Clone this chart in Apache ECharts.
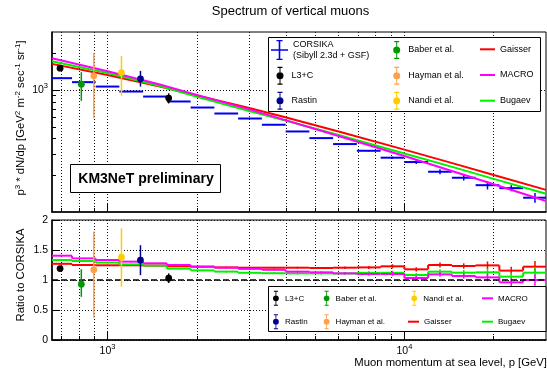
<!DOCTYPE html>
<html>
<head>
<meta charset="utf-8">
<title>Spectrum of vertical muons</title>
<script src="https://cdn.jsdelivr.net/npm/echarts@6.0.0/dist/echarts.min.js"></script>
<style>
  html, body { margin: 0; padding: 0; background: #ffffff; }
  #chart { width: 547px; height: 374px; }
</style>
</head>
<body>
<div id="chart"></div>
<script>
const FONT = "'Liberation Sans', Arial, Helvetica, sans-serif";

// CORSIKA histogram: bin edges in p [GeV], 0.08 decade per bin
const binEdges = [631, 759, 912, 1096, 1318, 1585, 1905, 2291, 2754, 3311, 3981,
                  4786, 5754, 6918, 8318, 10000, 12023, 14454, 17378, 20893, 25119, 30200];
// CORSIKA p^3 dN/dp per bin and its statistical error
const corsikaFlux = [1254, 1163, 1070, 974, 886, 807, 720, 643, 585, 520, 458,
                     404, 361, 318, 279, 257, 214, 191, 166, 157, 131];
const corsikaErr = [12, 11, 10, 9, 8, 7, 7, 6, 6, 5, 5, 5, 5, 5, 6, 9, 10, 10, 13, 9, 12];

// parametrisations, p^3 dN/dp sampled along p
const modelP      = [650, 1000, 1500, 2000, 3000, 4000, 6000, 10000, 15000, 20000, 30000];
const gaisserFlux = [1643, 1330, 1073, 905, 714, 596, 458, 325, 246, 201, 152];
const bugaevFlux  = [1727, 1380, 1082, 880, 675, 560, 428, 302, 229, 187, 141];
const macroFlux   = [1826, 1428, 1111, 915, 695, 565, 420, 288, 211, 169, 123];

// parametrisation / CORSIKA, per bin
const gaisserRatio = [1.27, 1.25, 1.245, 1.245, 1.24, 1.23, 1.222, 1.21, 1.205, 1.205, 1.205,
                      1.2, 1.205, 1.21, 1.228, 1.178, 1.25, 1.233, 1.244, 1.156, 1.222];
const macroRatio   = [1.405, 1.36, 1.333, 1.306, 1.278, 1.25, 1.222, 1.205, 1.185, 1.17, 1.139,
                      1.128, 1.11, 1.1, 1.1, 1.033, 1.094, 1.067, 1.044, 0.961, 1.0];
const bugaevRatio  = [1.333, 1.317, 1.29, 1.26, 1.24, 1.19, 1.16, 1.14, 1.12, 1.113, 1.11,
                      1.11, 1.11, 1.12, 1.12, 1.083, 1.139, 1.122, 1.128, 1.056, 1.122];
const ratioErr     = [0.01, 0.01, 0.01, 0.01, 0.01, 0.011, 0.011, 0.012, 0.012, 0.013, 0.015,
                      0.017, 0.02, 0.025, 0.035, 0.035, 0.04, 0.045, 0.065, 0.065, 0.095];

// measurements: momentum, flux (with error range) and ratio to CORSIKA (with error range)
const l3cP = [692, 1607];
const l3cFlux = [1514, 860], l3cFluxLo = [1478, 778], l3cFluxHi = [1550, 942];
const l3cRatio = [1.19, 1.03], l3cRatioLo = [1.16, 0.95], l3cRatioHi = [1.22, 1.11];

const baberP = [816];
const baberFlux = [1120], baberFluxLo = [817], baberFluxHi = [1404];
const baberRatio = [0.93], baberRatioLo = [0.72], baberRatioHi = [1.18];

const haymanP = [899];
const haymanFlux = [1310], haymanFluxLo = [589], haymanFluxHi = [2031];
const haymanRatio = [1.17], haymanRatioLo = [0.37], haymanRatioHi = [1.81];

const nandiP = [1114];
const nandiFlux = [1394], nandiFluxLo = [903], nandiFluxHi = [1911];
const nandiRatio = [1.38], nandiRatioLo = [0.89], nandiRatioHi = [1.86];

const rastinP = [1291];
const rastinFlux = [1238], rastinFluxLo = [1070], rastinFluxHi = [1439];
const rastinRatio = [1.33], rastinRatioLo = [1.08], rastinRatioHi = [1.58];

// axis ticks
const gridX = [700, 800, 900, 1000, 2000, 3000, 4000, 5000, 6000, 7000, 8000, 9000, 10000, 20000];
const majorX = [1000, 10000];
const majorFluxTicks = [1000];
const minorFluxTicks = [200, 300, 400, 500, 600, 700, 800, 900, 2000];

const COL = {
  corsika: '#0000ee', gaisser: '#ff0000', macro: '#ff00ff', bugaev: '#00f000',
  l3c: '#000000', baber: '#009a00', hayman: '#ff9f4a', nandi: '#ffcc00', rastin: '#00008b'
};

const supRich = {
  e: { fontSize: 7.5, fontFamily: FONT, color: '#000', padding: [0, 0, 8, 0] }
};
const powLabel = v => '10{e|' + Math.round(Math.log10(v)) + '}';
const dotted = { color: '#111', width: 1, type: [1, 2] };

function xAxes(gridIndex, withLabels) {
  return [{
    type: 'log', logBase: 10, gridIndex, min: 650, max: 30000, position: 'bottom',
    axisLine: { show: true, onZero: false, lineStyle: { color: '#000', width: 1.5 } },
    axisTick: { show: true, inside: true, length: 4, customValues: gridX, lineStyle: { color: '#000', width: 1 } },
    axisLabel: withLabels ? {
      show: true, customValues: majorX, formatter: powLabel, rich: supRich,
      fontSize: 10.5, fontFamily: FONT, color: '#000', margin: 3
    } : { show: false },
    splitLine: { show: true, lineStyle: dotted },
    minorTick: { show: false }, minorSplitLine: { show: false }
  }, {
    type: 'log', logBase: 10, gridIndex, min: 650, max: 30000, position: 'bottom',
    axisLine: { show: false }, axisLabel: { show: false }, splitLine: { show: false },
    axisTick: { show: true, inside: true, length: 8, customValues: majorX, lineStyle: { color: '#000', width: 1 } }
  }];
}

function histSeries(name, color, values, errs, xAxisIndex, yAxisIndex, connect) {
  const data = values.map((v, i) => [binEdges[i], binEdges[i + 1], v, errs[i],
                                      i + 1 < values.length ? values[i + 1] : v]);
  return {
    name, type: 'custom', xAxisIndex, yAxisIndex, clip: true, silent: true, z: 2,
    itemStyle: { color }, encode: { x: [0, 1], y: 2 }, data,
    renderItem: (params, api) => {
      const lo = api.value(0), hi = api.value(1), v = api.value(2), e = api.value(3), nxt = api.value(4);
      const a = api.coord([lo, v]), b = api.coord([hi, v]);
      const xc = api.coord([Math.sqrt(lo * hi), v])[0];
      const top = api.coord([lo, v + e])[1], bot = api.coord([lo, v - e])[1];
      const children = [
        { type: 'line', shape: { x1: a[0], y1: a[1], x2: b[0], y2: b[1] }, style: { stroke: color, lineWidth: 2 } },
        { type: 'line', shape: { x1: xc, y1: top, x2: xc, y2: bot }, style: { stroke: color, lineWidth: 1.5 } }
      ];
      if (connect) {
        const n = api.coord([hi, nxt]);
        children.push({ type: 'line', shape: { x1: b[0], y1: b[1], x2: b[0], y2: n[1] }, style: { stroke: color, lineWidth: 2 } });
      }
      return { type: 'group', children };
    }
  };
}

function pointSeries(name, color, xs, ys, lo, hi, xAxisIndex, yAxisIndex) {
  const data = xs.map((x, i) => [x, ys[i], lo[i], hi[i]]);
  return {
    name, type: 'custom', xAxisIndex, yAxisIndex, clip: true, silent: true, z: 4,
    itemStyle: { color }, encode: { x: 0, y: 1 }, data,
    renderItem: (params, api) => {
      const c = api.coord([api.value(0), api.value(1)]);
      const t = api.coord([api.value(0), api.value(3)]);
      const b = api.coord([api.value(0), api.value(2)]);
      return { type: 'group', children: [
        { type: 'line', shape: { x1: c[0], y1: t[1], x2: c[0], y2: b[1] }, style: { stroke: color, lineWidth: 1.5 } },
        { type: 'circle', shape: { cx: c[0], cy: c[1], r: 3.4 }, style: { fill: color } }
      ] };
    }
  };
}

function modelSeries(name, color, flux) {
  return {
    name, type: 'line', xAxisIndex: 0, yAxisIndex: 0, silent: true, z: 3,
    data: modelP.map((p, i) => [p, flux[i]]),
    symbol: 'none', showSymbol: false, smooth: false, clip: true,
    lineStyle: { color, width: 2 }, itemStyle: { color }
  };
}

// legend icons: error bar with marker, histogram cross
const PT = 'path://M3,0H4V18H3Z M1,0H6V1.2H1Z M1,16.8H6V18H1Z M7,9A3.5,3.5 0 1 1 0,9A3.5,3.5 0 1 1 7,9Z';
const CROSS = 'path://M0,9.2H17V10.8H0Z M7.7,0H9.3V20H7.7Z M5.5,0H11.5V1.3H5.5Z M5.5,18.7H11.5V20H5.5Z';

function legendEntry(name, left, top, o) {
  return {
    show: true, type: 'plain', orient: 'horizontal', left, top, padding: 0, itemGap: 0,
    selectedMode: false, itemWidth: o.w, itemHeight: o.h,
    itemStyle: { borderWidth: 0 },
    data: [{ name, icon: o.icon }],
    formatter: o.label || '{name}',
    textStyle: { fontFamily: FONT, fontSize: o.fs, color: '#000', lineHeight: o.lh, padding: o.pad || 0 }
  };
}

const topPt = { w: 7, h: 18, icon: PT, fs: 9, lh: 11, pad: [0, 0, 0, 3] };
const topLn = { w: 15, h: 2, icon: 'rect', fs: 9, lh: 11 };
const botPt = { w: 6, h: 15, icon: PT, fs: 8, lh: 10, pad: [0, 0, 0, 1] };
const botLn = { w: 11, h: 2, icon: 'rect', fs: 8, lh: 10 };

const option = {
  animation: false,
  backgroundColor: '#ffffff',
  grid: [
    { left: 52, top: 32, width: 494, height: 180, show: true, borderColor: '#000', borderWidth: 1,
      backgroundColor: 'transparent', containLabel: false, outerBoundsMode: 'none' },
    { left: 52, top: 220, width: 494, height: 120, show: true, borderColor: '#000', borderWidth: 1,
      backgroundColor: 'transparent', containLabel: false, outerBoundsMode: 'none' }
  ],
  xAxis: [...xAxes(0, false), ...xAxes(1, true)],
  yAxis: [
    {
      type: 'log', logBase: 10, gridIndex: 0, min: 100, max: 3000, position: 'left',
      axisLine: { show: true, onZero: false, lineStyle: { color: '#000', width: 1.5 } },
      axisTick: { show: true, inside: true, length: 8, customValues: majorFluxTicks, lineStyle: { color: '#000' } },
      axisLabel: { show: true, customValues: majorFluxTicks, formatter: powLabel, rich: supRich,
                   fontSize: 10.5, fontFamily: FONT, color: '#000', margin: 4 },
      splitLine: { show: true, lineStyle: dotted },
      minorTick: { show: false }, minorSplitLine: { show: false }
    },
    {
      type: 'log', logBase: 10, gridIndex: 0, min: 100, max: 3000, position: 'left',
      axisLine: { show: false }, axisLabel: { show: false }, splitLine: { show: false },
      axisTick: { show: true, inside: true, length: 4, customValues: minorFluxTicks, lineStyle: { color: '#000' } }
    },
    {
      type: 'value', gridIndex: 1, min: 0, max: 2, interval: 0.5, position: 'left',
      axisLine: { show: true, onZero: false, lineStyle: { color: '#000', width: 1.5 } },
      axisTick: { show: true, inside: true, length: 8, lineStyle: { color: '#000' } },
      axisLabel: { show: true, fontSize: 10.5, fontFamily: FONT, color: '#000', margin: 4,
                   formatter: v => String(v) },
      splitLine: { show: true, lineStyle: dotted }
    }
  ],
  legend: [
    legendEntry('CORSIKA', 271, 39, { w: 17, h: 20, icon: CROSS, fs: 9, lh: 11,
                                      label: 'CORSIKA\n(Sibyll 2.3d + GSF)' }),
    legendEntry('L3+C', 276.5, 66.7, topPt),
    legendEntry('Rastin', 276.5, 91.7, topPt),
    legendEntry('Baber et al.', 393.2, 41, topPt),
    legendEntry('Hayman et al.', 393.2, 66.7, topPt),
    legendEntry('Nandi et al.', 393.2, 91.7, topPt),
    legendEntry('Gaisser', 480, 43.8, topLn),
    legendEntry('MACRO', 480, 69.5, topLn),
    legendEntry('Bugaev', 480, 95.2, topLn),

    legendEntry('L3+C', 273, 290.8, botPt),
    legendEntry('Rastin', 273, 314.2, botPt),
    legendEntry('Baber et al.', 323.7, 290.8, botPt),
    legendEntry('Hayman et al.', 323.7, 314.2, botPt),
    legendEntry('Nandi et al.', 411.3, 290.8, botPt),
    legendEntry('Gaisser', 408, 316.7, botLn),
    legendEntry('MACRO', 482, 293.3, botLn),
    legendEntry('Bugaev', 482, 316.7, botLn)
  ],
  graphic: [
    { type: 'text', x: 290.5, y: 11, z: 10,
      style: { text: 'Spectrum of vertical muons', fontSize: 13, fontFamily: FONT, fill: '#000',
               align: 'center', verticalAlign: 'middle', textAlign: 'center', textVerticalAlign: 'middle' } },
    { type: 'text', x: 21, y: 118, rotation: Math.PI / 2, z: 10,
      style: { text: 'p{s|3} * dN/dp [GeV{s|2} m{s|-2} sec{s|-1} sr{s|-1}]',
               rich: { s: { fontSize: 8, fontFamily: FONT, fill: '#000', padding: [0, 0, 7, 0] } },
               fontSize: 11.3, fontFamily: FONT, fill: '#000',
               align: 'center', verticalAlign: 'middle', textAlign: 'center', textVerticalAlign: 'middle' } },
    { type: 'text', x: 21, y: 275, rotation: Math.PI / 2, z: 10,
      style: { text: 'Ratio to CORSIKA', fontSize: 11.3, fontFamily: FONT, fill: '#000',
               align: 'center', verticalAlign: 'middle', textAlign: 'center', textVerticalAlign: 'middle' } },
    { type: 'text', x: 547, y: 363, z: 10,
      style: { text: 'Muon momentum at sea level, p [GeV]', fontSize: 11.3, fontFamily: FONT, fill: '#000',
               align: 'right', verticalAlign: 'middle', textAlign: 'right', textVerticalAlign: 'middle' } },
    { type: 'rect', z: 3, shape: { x: 70.5, y: 164.5, width: 150, height: 28 },
      style: { fill: '#fff', stroke: '#000', lineWidth: 1 } },
    { type: 'text', x: 146, y: 179, z: 10,
      style: { text: 'KM3NeT preliminary', fontSize: 14, fontWeight: 'bold', fontFamily: FONT, fill: '#000',
               align: 'center', verticalAlign: 'middle', textAlign: 'center', textVerticalAlign: 'middle' } },
    { type: 'rect', z: 3, shape: { x: 268.5, y: 37.5, width: 272, height: 74 },
      style: { fill: '#fff', stroke: '#000', lineWidth: 1 } },
    { type: 'rect', z: 3, shape: { x: 268.5, y: 286.5, width: 277.5, height: 45 },
      style: { fill: '#fff', stroke: '#000', lineWidth: 1 } }
  ],
  series: [
    // spectrum panel
    histSeries('CORSIKA', COL.corsika, corsikaFlux, corsikaErr, 0, 0, false),
    modelSeries('Gaisser', COL.gaisser, gaisserFlux),
    modelSeries('Bugaev', COL.bugaev, bugaevFlux),
    modelSeries('MACRO', COL.macro, macroFlux),
    pointSeries('L3+C', COL.l3c, l3cP, l3cFlux, l3cFluxLo, l3cFluxHi, 0, 0),
    pointSeries('Baber et al.', COL.baber, baberP, baberFlux, baberFluxLo, baberFluxHi, 0, 0),
    pointSeries('Hayman et al.', COL.hayman, haymanP, haymanFlux, haymanFluxLo, haymanFluxHi, 0, 0),
    pointSeries('Nandi et al.', COL.nandi, nandiP, nandiFlux, nandiFluxLo, nandiFluxHi, 0, 0),
    pointSeries('Rastin', COL.rastin, rastinP, rastinFlux, rastinFluxLo, rastinFluxHi, 0, 0),

    // ratio panel
    { name: 'unity', type: 'line', xAxisIndex: 2, yAxisIndex: 2, silent: true, z: 2,
      data: [[650, 1], [30000, 1]], symbol: 'none', showSymbol: false,
      lineStyle: { color: '#000', width: 1.6, type: [6, 3] } },
    histSeries('Gaisser', COL.gaisser, gaisserRatio, ratioErr, 2, 2, true),
    histSeries('Bugaev', COL.bugaev, bugaevRatio, ratioErr, 2, 2, true),
    histSeries('MACRO', COL.macro, macroRatio, ratioErr, 2, 2, true),
    pointSeries('L3+C', COL.l3c, l3cP, l3cRatio, l3cRatioLo, l3cRatioHi, 2, 2),
    pointSeries('Baber et al.', COL.baber, baberP, baberRatio, baberRatioLo, baberRatioHi, 2, 2),
    pointSeries('Hayman et al.', COL.hayman, haymanP, haymanRatio, haymanRatioLo, haymanRatioHi, 2, 2),
    pointSeries('Nandi et al.', COL.nandi, nandiP, nandiRatio, nandiRatioLo, nandiRatioHi, 2, 2),
    pointSeries('Rastin', COL.rastin, rastinP, rastinRatio, rastinRatioLo, rastinRatioHi, 2, 2)
  ]
};

const chart = echarts.init(document.getElementById('chart'), null, { renderer: 'canvas' });
chart.setOption(option);
</script>
</body>
</html>
